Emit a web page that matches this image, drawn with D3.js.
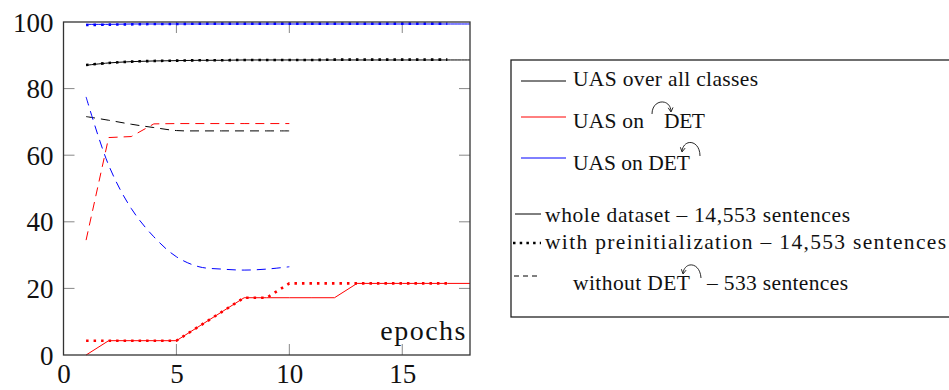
<!DOCTYPE html>
<html>
<head>
<meta charset="utf-8">
<script src="https://d3js.org/d3.v7.min.js"></script>
<style>
  body { margin: 0; background: #fff; }
  text { font-family: 'Liberation Serif', serif; fill: #111; }
</style>
</head>
<body>
<script>
// epochs on the x axis
const epochs = [1, 2, 3, 4, 5, 6, 7, 8, 9, 10, 11, 12, 13, 14, 15, 16, 17, 18];

// UAS over all classes (black)
const allWhole = [87.0, 87.7, 88.1, 88.3, 88.4, 88.5, 88.5, 88.6, 88.6, 88.6, 88.6, 88.6, 88.6, 88.6, 88.6, 88.6, 88.6, 88.6];
const allPre   = [87.1, 87.7, 88.1, 88.3, 88.4, 88.5, 88.5, 88.6, 88.6, 88.6, 88.6, 88.7, 88.7, 88.7, 88.7, 88.7, 88.7];
const allSmall = [71.6, 70.5, 69.3, 68.3, 67.4, 67.3, 67.3, 67.3, 67.3, 67.3];

// UAS on left-headed DET (red)
const leftWhole = [0, 4.3, 4.3, 4.3, 4.3, 8.6, 12.9, 17.2, 17.2, 17.2, 17.2, 17.2, 21.5, 21.5, 21.5, 21.5, 21.5, 21.5];
const leftPre   = [4.3, 4.3, 4.3, 4.3, 4.3, 8.6, 12.9, 17.2, 17.2, 21.5, 21.5, 21.5, 21.5, 21.5, 21.5, 21.5, 21.5];
const leftSmall = [34.5, 65.3, 65.6, 69.4, 69.5, 69.5, 69.5, 69.5, 69.5, 69.5];

// UAS on right-headed DET (blue)
const rightWhole = [99.3, 99.3, 99.4, 99.4, 99.4, 99.4, 99.4, 99.4, 99.4, 99.4, 99.4, 99.4, 99.4, 99.4, 99.4, 99.4, 99.4, 99.4];
const rightPre   = [99.1, 99.2, 99.3, 99.4, 99.4, 99.5, 99.5, 99.5, 99.5, 99.5, 99.5, 99.5, 99.5, 99.5, 99.5, 99.5, 99.5];
const rightSmall = [77.5, 57.0, 44.0, 35.5, 29.5, 26.5, 25.8, 25.5, 25.8, 26.5];

const xTicks = [0, 5, 10, 15];
const yTicks = [0, 20, 40, 60, 80, 100];

const width = 949, height = 390;
const plot = {left: 63.5, right: 470, top: 22, bottom: 355};

const svg = d3.select('body').append('svg')
  .attr('width', width)
  .attr('height', height);

const x = d3.scaleLinear().domain([0, 18]).range([plot.left, plot.right]);
const y = d3.scaleLinear().domain([0, 100]).range([plot.bottom, plot.top]);

// tick marks, pointing inwards on all four sides
const tickLen = 11;
const tickG = svg.append('g').attr('stroke', '#888').attr('stroke-width', 1);
xTicks.filter(t => t > 0).forEach(t => {
  tickG.append('line').attr('x1', x(t)).attr('x2', x(t)).attr('y1', plot.bottom).attr('y2', plot.bottom - tickLen);
  tickG.append('line').attr('x1', x(t)).attr('x2', x(t)).attr('y1', plot.top).attr('y2', plot.top + tickLen);
});
yTicks.filter(t => t > 0 && t < 100).forEach(t => {
  tickG.append('line').attr('x1', plot.left).attr('x2', plot.left + tickLen).attr('y1', y(t)).attr('y2', y(t));
  tickG.append('line').attr('x1', plot.right).attr('x2', plot.right - tickLen).attr('y1', y(t)).attr('y2', y(t));
});

// tick labels via axes
const xAxis = svg.append('g')
  .attr('transform', `translate(0,${plot.bottom})`)
  .call(d3.axisBottom(x).tickValues(xTicks).tickSize(0).tickPadding(9));
const yAxis = svg.append('g')
  .attr('transform', `translate(${plot.left},0)`)
  .call(d3.axisLeft(y).tickValues(yTicks).tickSize(0).tickPadding(10));
[xAxis, yAxis].forEach(a => {
  a.select('.domain').remove();
  a.selectAll('text')
    .attr('font-family', 'Liberation Serif, serif')
    .attr('font-size', 27)
    .attr('fill', '#111');
});
xAxis.selectAll('text').attr('dy', '0.72em');
yAxis.selectAll('text').attr('dy', '0.34em');

// series lines
const lineSharp = d3.line().x((d, i) => x(epochs[i])).y(d => y(d));
const lineSmooth = d3.line().x((d, i) => x(epochs[i])).y(d => y(d)).curve(d3.curveCatmullRom.alpha(0.5));

const dotted = '2.5,5';
const dashed = '9,6';

const series = [
  {data: allWhole, color: '#000', dash: null, w: 1, smooth: true},
  {data: allPre, color: '#000', dash: dotted, w: 2.6, smooth: true},
  {data: allSmall, color: '#000', dash: dashed, w: 1, smooth: true},
  {data: leftWhole, color: '#f00', dash: null, w: 1, smooth: false},
  {data: leftPre, color: '#f00', dash: dotted, w: 2.6, smooth: false},
  {data: leftSmall, color: '#f00', dash: dashed, w: 1, smooth: false},
  {data: rightWhole, color: '#00f', dash: null, w: 1, smooth: true},
  {data: rightPre, color: '#00f', dash: dotted, w: 2.6, smooth: true},
  {data: rightSmall, color: '#00f', dash: dashed, w: 1, smooth: true}
];

svg.append('g').selectAll('path')
  .data(series)
  .join('path')
  .attr('d', s => (s.smooth ? lineSmooth : lineSharp)(s.data))
  .attr('fill', 'none')
  .attr('stroke', s => s.color)
  .attr('stroke-width', s => s.w)
  .attr('stroke-dasharray', s => s.dash);

// frame
svg.append('rect')
  .attr('x', plot.left).attr('y', plot.top)
  .attr('width', plot.right - plot.left).attr('height', plot.bottom - plot.top)
  .attr('fill', 'none').attr('stroke', '#333').attr('stroke-width', 1.3);

svg.append('text')
  .attr('x', plot.right - 3).attr('y', 340)
  .attr('text-anchor', 'end')
  .attr('font-size', 28)
  .attr('letter-spacing', 1.5)
  .text('epochs');

// legend
const legend = svg.append('g');
legend.append('rect')
  .attr('x', 511).attr('y', 60)
  .attr('width', 445).attr('height', 257)
  .attr('fill', 'white').attr('stroke', '#222').attr('stroke-width', 1.3);

const legFont = 21.5;
const colorRows = [
  {color: '#000', ly: 81},
  {color: '#f00', ly: 117},
  {color: '#00f', ly: 158}
];
colorRows.forEach(r => {
  legend.append('line')
    .attr('x1', 521).attr('x2', 566).attr('y1', r.ly).attr('y2', r.ly)
    .attr('stroke', r.color).attr('stroke-width', 1);
});

const styleRows = [
  {dash: null, w: 1, x1: 515, x2: 541, ly: 214},
  {dash: '2.5,4.2', w: 2.6, x1: 513, x2: 541, ly: 243},
  {dash: '5,4', w: 1, x1: 514, x2: 539, ly: 276}
];
styleRows.forEach(r => {
  legend.append('line')
    .attr('x1', r.x1).attr('x2', r.x2).attr('y1', r.ly).attr('y2', r.ly)
    .attr('stroke', '#000').attr('stroke-width', r.w)
    .attr('stroke-dasharray', r.dash);
});

const txt = (xp, yp, s, len) => legend.append('text')
  .attr('x', xp).attr('y', yp)
  .attr('font-size', legFont)
  .attr('textLength', len)
  .attr('lengthAdjust', 'spacing')
  .text(s);

txt(573, 86, 'UAS over all classes', 185);
txt(573, 128, 'UAS on', 71);
txt(664, 128, 'DET', 41);
txt(573, 170, 'UAS on DET', 117);
txt(545, 222, 'whole dataset – 14,553 sentences', 305);
txt(545, 249, 'with preinitialization – 14,553 sentences', 401);
txt(573, 290, 'without DET', 117);
txt(707, 290, '– 533 sentences', 141);

// dependency arcs with small arrowheads
const arcG = legend.append('g').attr('fill', 'none').attr('stroke', '#111').attr('stroke-width', 0.9);
function arrowHead(px, py, angle) {
  const a = angle * Math.PI / 180, l = 5;
  arcG.append('path')
    .attr('d', `M${px + l * Math.cos(a - 0.5)},${py + l * Math.sin(a - 0.5)} L${px},${py} L${px + l * Math.cos(a + 0.5)},${py + l * Math.sin(a + 0.5)}`);
}
// row 2: arc pointing right into D
arcG.append('path').attr('d', 'M652,114 C652,99 670,98 671,111');
arrowHead(671, 112, -95);
// row 3: arc pointing left onto T
arcG.append('path').attr('d', 'M682,151 C684,138 700,140 700,156');
arrowHead(682, 152, -80);
// row 6: arc pointing left onto T
arcG.append('path').attr('d', 'M683,273 C685,261 700,262 701,278');
arrowHead(683, 274, -80);
</script>
</body>
</html>
